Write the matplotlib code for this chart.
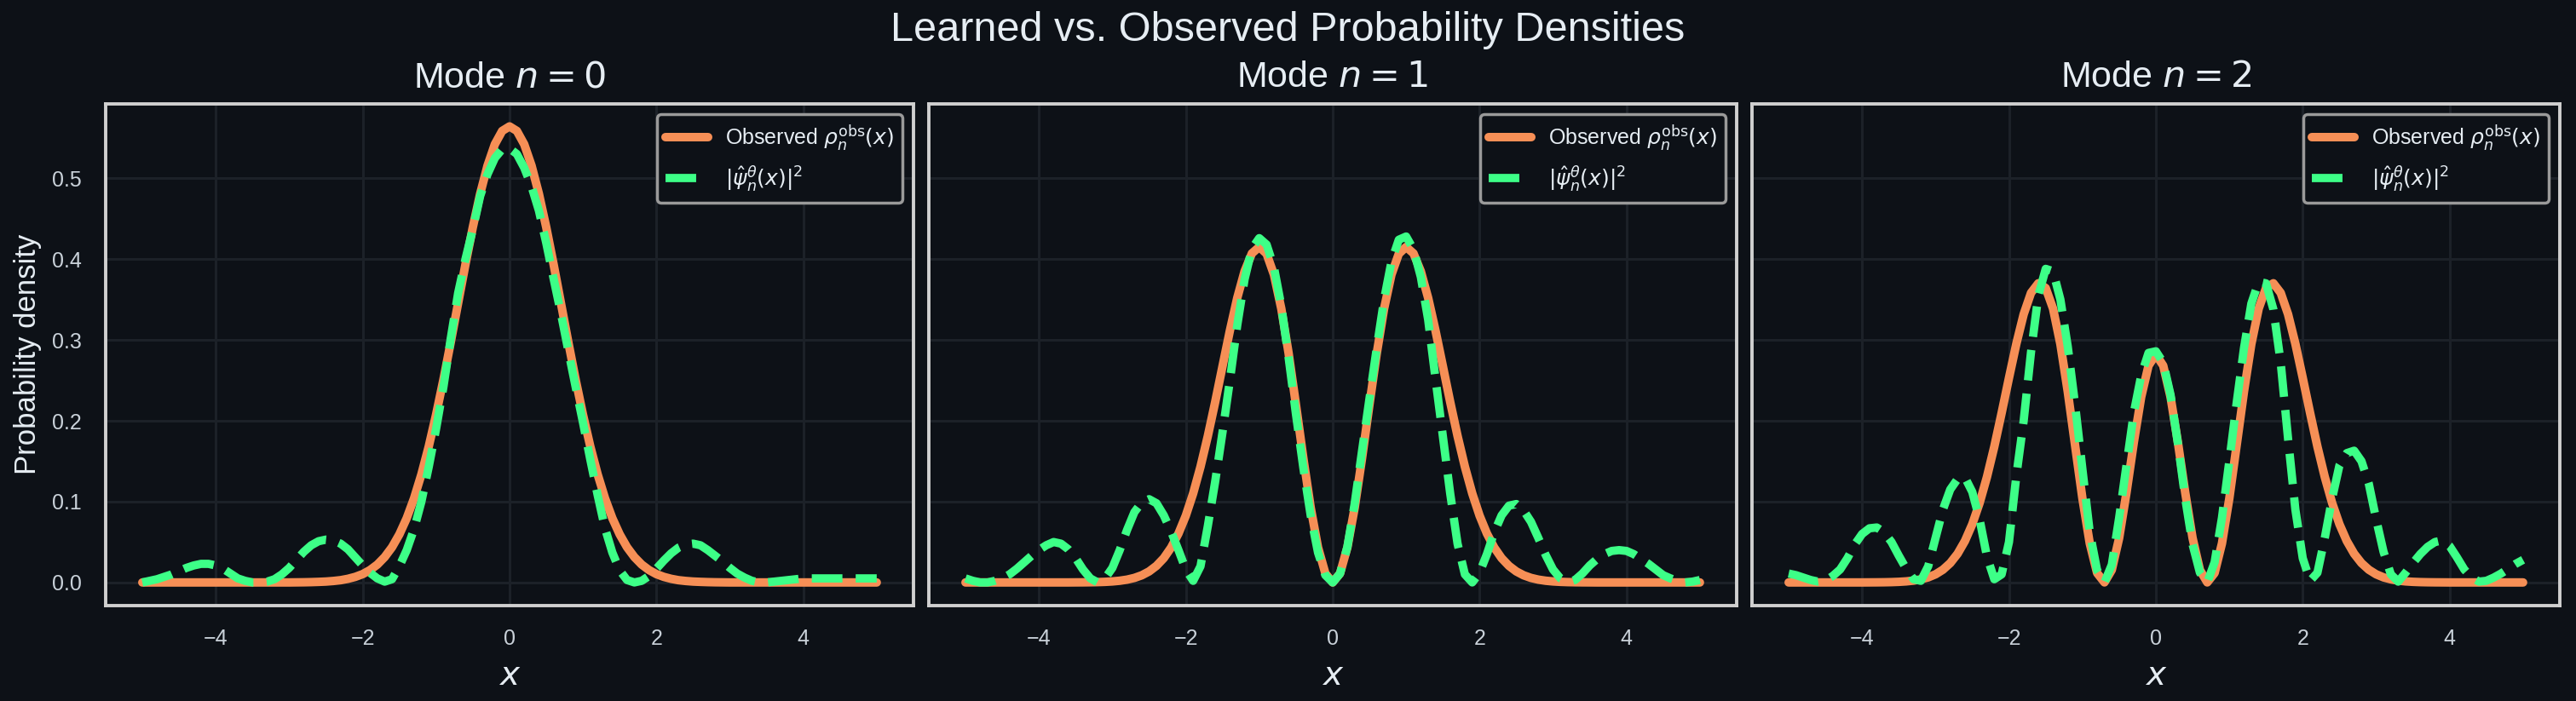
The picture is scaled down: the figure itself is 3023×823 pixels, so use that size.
import numpy as np
import matplotlib
matplotlib.use("Agg")
import matplotlib.pyplot as plt

# ---------------- data ----------------
x_grid = [round(-5.0 + 0.1 * i, 1) for i in range(101)]

observed_n0 = [
    0.0, 0.0, 0.0, 0.0, 0.0, 0.0, 0.0, 0.0, 0.0, 0.0,
    0.0, 0.0, 0.0, 0.0, 0.0, 0.0, 0.0, 0.0, 0.0, 0.0,
    0.0, 0.0001, 0.0002, 0.0004, 0.0007, 0.0011, 0.0018, 0.0028, 0.0045, 0.0069,
    0.0103, 0.0153, 0.0221, 0.0314, 0.0436, 0.0595, 0.0795, 0.1041, 0.1337, 0.1682,
    0.2076, 0.2510, 0.2975, 0.3456, 0.3936, 0.4394, 0.4808, 0.5156, 0.5421, 0.5586,
    0.5642,
    0.5586, 0.5421, 0.5156, 0.4808, 0.4394, 0.3936, 0.3456, 0.2975, 0.2510, 0.2076,
    0.1682, 0.1337, 0.1041, 0.0795, 0.0595, 0.0436, 0.0314, 0.0221, 0.0153, 0.0103,
    0.0069, 0.0045, 0.0028, 0.0018, 0.0011, 0.0007, 0.0004, 0.0002, 0.0001, 0.0,
    0.0, 0.0, 0.0, 0.0, 0.0, 0.0, 0.0, 0.0, 0.0, 0.0,
    0.0, 0.0, 0.0, 0.0, 0.0, 0.0, 0.0, 0.0, 0.0, 0.0,
]

observed_n1 = [
    0.0, 0.0, 0.0, 0.0, 0.0, 0.0, 0.0, 0.0, 0.0, 0.0,
    0.0, 0.0, 0.0, 0.0, 0.0, 0.00007, 0.00012, 0.00023, 0.00041, 0.00073,
    0.00125, 0.00211, 0.00348, 0.00561, 0.00884, 0.01363, 0.02051, 0.03005, 0.04317, 0.06051,
    0.08264, 0.11018, 0.14321, 0.18126, 0.22328, 0.26762, 0.31152, 0.35189, 0.38497, 0.40714,
    0.41510, 0.40660, 0.38079, 0.33873, 0.28341, 0.21970, 0.15385, 0.09281, 0.04337, 0.01117,
    0.0,
    0.01117, 0.04337, 0.09281, 0.15385, 0.21970, 0.28341, 0.33873, 0.38079, 0.40660, 0.41510,
    0.40714, 0.38497, 0.35189, 0.31152, 0.26762, 0.22328, 0.18126, 0.14321, 0.11018, 0.08264,
    0.06051, 0.04317, 0.03005, 0.02051, 0.01363, 0.00884, 0.00561, 0.00348, 0.00211, 0.00125,
    0.00073, 0.00041, 0.00023, 0.00012, 0.00007, 0.0, 0.0, 0.0, 0.0, 0.0,
    0.0, 0.0, 0.0, 0.0, 0.0, 0.0, 0.0, 0.0, 0.0, 0.0,
]

observed_n2 = [
    0.0, 0.0, 0.0, 0.0, 0.0, 0.0, 0.0, 0.0, 0.0, 0.0,
    0.0, 0.00006, 0.00012, 0.00022, 0.00041, 0.00075, 0.00132, 0.00227, 0.00382, 0.00627,
    0.01006, 0.01572, 0.02393, 0.03550, 0.05126, 0.07202, 0.09837, 0.13053, 0.16801, 0.20975,
    0.25309, 0.29519, 0.33184, 0.35826, 0.37013, 0.36425, 0.33880, 0.29486, 0.23622, 0.16962,
    0.10378, 0.04824, 0.01166, 0.00007, 0.01543, 0.05492, 0.11115, 0.17335, 0.22940, 0.26823,
    0.28210,
    0.26823, 0.22940, 0.17335, 0.11115, 0.05492, 0.01543, 0.00007, 0.01166, 0.04824, 0.10378,
    0.16962, 0.23622, 0.29486, 0.33880, 0.36425, 0.37013, 0.35826, 0.33184, 0.29519, 0.25309,
    0.20975, 0.16801, 0.13053, 0.09837, 0.07202, 0.05126, 0.03550, 0.02393, 0.01572, 0.01006,
    0.00627, 0.00382, 0.00227, 0.00132, 0.00075, 0.00041, 0.00022, 0.00012, 0.00006, 0.0,
    0.0, 0.0, 0.0, 0.0, 0.0, 0.0, 0.0, 0.0, 0.0, 0.0,
]

learned_n0 = [
    0.000, 0.002, 0.004, 0.007, 0.010, 0.014, 0.018, 0.021, 0.023, 0.023,
    0.021, 0.017, 0.011, 0.005, 0.002, 0.000, 0.000, 0.001, 0.004, 0.010,
    0.018, 0.028, 0.038, 0.046, 0.051, 0.053, 0.052, 0.048, 0.041, 0.031,
    0.021, 0.012, 0.005, 0.001, 0.004, 0.020, 0.040, 0.066, 0.100, 0.143,
    0.190, 0.242, 0.302, 0.358, 0.400, 0.437, 0.478, 0.505, 0.525, 0.536,
    0.537,
    0.530, 0.513, 0.490, 0.460, 0.420, 0.376, 0.333, 0.287, 0.242, 0.198,
    0.152, 0.108, 0.067, 0.037, 0.015, 0.003, 0.000, 0.002, 0.008, 0.017,
    0.027, 0.036, 0.043, 0.047, 0.048, 0.046, 0.040, 0.033, 0.026, 0.018,
    0.011, 0.006, 0.002, 0.000, 0.000, 0.001, 0.002, 0.003, 0.004, 0.005,
    0.005, 0.005, 0.005, 0.005, 0.005, 0.005, 0.005, 0.005, 0.005, 0.005,
]

learned_n1 = [
    0.005, 0.002, 0.000, 0.000, 0.002, 0.005, 0.010, 0.017, 0.025, 0.033,
    0.040, 0.046, 0.050, 0.048, 0.041, 0.030, 0.016, 0.005, 0.000, 0.005,
    0.018, 0.040, 0.065, 0.087, 0.099, 0.103, 0.098, 0.083, 0.063, 0.040,
    0.016, 0.002, 0.020, 0.070, 0.125, 0.186, 0.250, 0.318, 0.375, 0.413,
    0.426, 0.418, 0.390, 0.342, 0.278, 0.208, 0.142, 0.083, 0.037, 0.009,
    0.000,
    0.011, 0.044, 0.098, 0.163, 0.227, 0.290, 0.350, 0.397, 0.424, 0.428,
    0.412, 0.378, 0.325, 0.252, 0.181, 0.110, 0.048, 0.010, 0.000, 0.012,
    0.035, 0.062, 0.083, 0.095, 0.097, 0.089, 0.075, 0.055, 0.034, 0.016,
    0.005, 0.000, 0.003, 0.011, 0.021, 0.029, 0.035, 0.039, 0.040, 0.039,
    0.035, 0.029, 0.023, 0.016, 0.009, 0.005, 0.002, 0.000, 0.001, 0.003,
]

learned_n2 = [
    0.011, 0.009, 0.006, 0.003, 0.001, 0.002, 0.008, 0.016, 0.030, 0.047,
    0.060, 0.067, 0.068, 0.062, 0.050, 0.033, 0.017, 0.004, 0.002, 0.020,
    0.055, 0.090, 0.115, 0.128, 0.130, 0.112, 0.078, 0.032, 0.004, 0.010,
    0.050, 0.132, 0.200, 0.285, 0.355, 0.388, 0.385, 0.350, 0.292, 0.220,
    0.140, 0.062, 0.015, 0.000, 0.022, 0.080, 0.145, 0.210, 0.256, 0.284,
    0.286,
    0.272, 0.232, 0.172, 0.104, 0.047, 0.012, 0.000, 0.025, 0.080, 0.150,
    0.222, 0.290, 0.345, 0.372, 0.370, 0.338, 0.272, 0.178, 0.090, 0.030,
    0.002, 0.012, 0.055, 0.104, 0.145, 0.160, 0.163, 0.150, 0.122, 0.078,
    0.038, 0.010, 0.001, 0.012, 0.024, 0.035, 0.044, 0.050, 0.052, 0.045,
    0.031, 0.016, 0.006, 0.001, 0.002, 0.006, 0.011, 0.017, 0.023, 0.028,
]

mode_labels = ["0", "1", "2"]
observed_series = [observed_n0, observed_n1, observed_n2]
learned_series = [learned_n0, learned_n1, learned_n2]

# ---------------- style ----------------
BG = "#0d1117"
TEXT = "#e6edf3"
TICK = "#c9d1d9"
SPINE = "#d0d0d0"
GRID = "#1c2128"
ORANGE = "#f68f56"
GREEN = "#3dff87"

plt.rcParams["font.family"] = ["Liberation Sans", "DejaVu Sans"]
plt.rcParams["mathtext.fontset"] = "dejavusans"

fig, axes = plt.subplots(1, 3, figsize=(30.23, 8.23), dpi=100, sharey=True)
fig.patch.set_facecolor(BG)
fig.subplots_adjust(left=0.041, right=0.9937, bottom=0.1366, top=0.8522, wspace=0.019)

for i, ax in enumerate(axes):
    ax.set_facecolor(BG)
    ax.plot(x_grid, observed_series[i], color=ORANGE, lw=7.2, solid_capstyle="round",
            label=r"Observed $\rho_n^{\mathrm{obs}}(x)$", zorder=3)
    ax.plot(x_grid, learned_series[i], color=GREEN, lw=7, ls="--",
            label=r"$|\hat{\psi}_n^{\theta}(x)|^2$", zorder=4)
    ax.set_title(r"Mode $n = " + mode_labels[i] + r"$", color=TEXT, fontsize=31, pad=14)
    ax.set_xlabel(r"$x$", color=TEXT, fontsize=28, labelpad=10)
    ax.grid(True, color=GRID, lw=2.2)
    ax.set_axisbelow(True)
    for sp in ax.spines.values():
        sp.set_color(SPINE)
        sp.set_linewidth(2.8)
    ax.tick_params(axis="both", length=0, pad=20, labelsize=18, colors=TICK)
    leg = ax.legend(loc="upper right", fontsize=18, facecolor=BG, edgecolor="#9a9a9a",
                    framealpha=1.0, fancybox=True)
    leg.get_frame().set_linewidth(2.5)
    for t in leg.get_texts():
        t.set_color(TEXT)
    ax.set_xticks([-4, -2, 0, 2, 4])

axes[0].set_ylabel("Probability density", color=TEXT, fontsize=25, labelpad=9)
fig.suptitle("Learned vs. Observed Probability Densities", color=TEXT, fontsize=35, y=0.957, va="center")

fig.savefig("out.png", dpi=100, facecolor=BG)
